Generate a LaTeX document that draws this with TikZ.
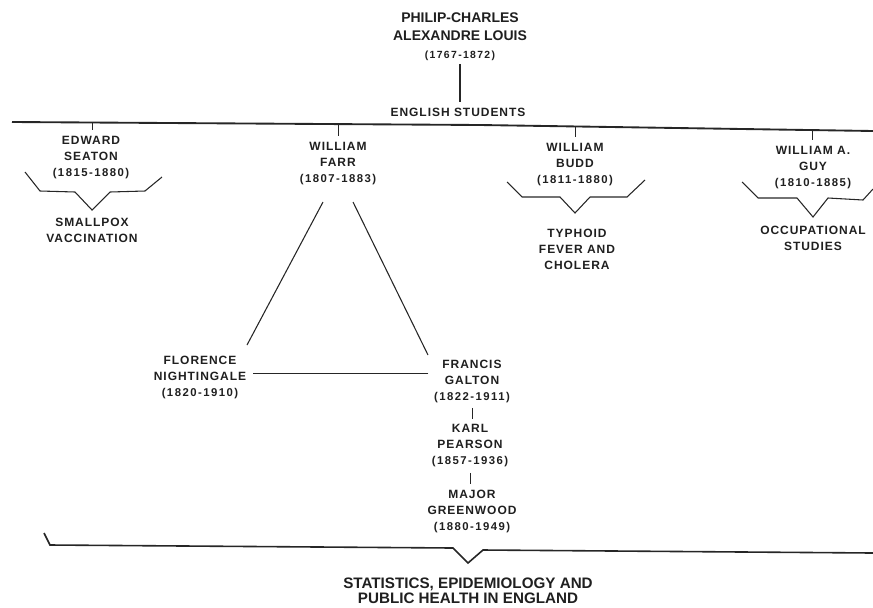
\documentclass[tikz,border=0pt]{standalone}
\usepackage{fontspec}
\setmainfont{Liberation Sans}
\newfontfamily\nmfam[LetterSpace=8]{Liberation Sans}
\newfontfamily\dtfam[LetterSpace=13]{Liberation Sans}
\newcommand\nmf{\fontsize{9}{12}\nmfam\bfseries}
\newcommand\dtf{\fontsize{8.5}{12}\dtfam\bfseries}
\begin{document}
\begin{tikzpicture}[x=0.75pt,y=-0.75pt,
  nm/.style={align=center, inner sep=0pt, font=\nmf, text=black!88},
  ln/.style={line width=0.8pt, draw=black!85},
  heavy/.style={line width=1.4pt, draw=black!85},
  tick/.style={line width=0.7pt, draw=black!85, shorten >=5pt}]
\useasboundingbox (0,0) rectangle (873,607);

% title
\node[nm, font=\fontsize{10.5}{13.5}\selectfont\bfseries] (louis) at (460,37)
  {PHILIP-CHARLES\\ALEXANDRE LOUIS\\\fontsize{7.8}{13.5}\dtfam\bfseries(1767-1872)};
\node[nm] (eng) at (458,112) {ENGLISH STUDENTS};
\draw[ln, shorten <=2pt, shorten >=4pt] (louis.south) -- (louis.south |- eng.north);

% main horizontal line
\draw[heavy] (12,122) -- (480,125) -- (873,131);
\coordinate (tS) at (92,122.5);
\coordinate (tF) at (338,124.1);
\coordinate (tB) at (575,126.5);
\coordinate (tG) at (812,130.1);

% students
\node[nm] (seaton) at (91,158) {EDWARD\\SEATON\\\dtf(1815-1880)};
\node[nm] (farr) at (338,164) {WILLIAM\\FARR\\\dtf(1807-1883)};
\node[nm] (budd) at (575,165) {WILLIAM\\BUDD\\\dtf(1811-1880)};
\node[nm] (guy) at (813,168) {WILLIAM A.\\GUY\\\dtf(1810-1885)};

\draw[tick] (tS) -- (tS |- seaton.north);
\draw[tick] (tF) -- (tF |- farr.north);
\draw[tick] (tB) -- (tB |- budd.north);
\draw[tick] (tG) -- (tG |- guy.north);

% braces
\draw[ln] (25,172) -- (40,191) -- (75,192) -- (92,210) coordinate (vS) -- (110,192) -- (145,191) -- (162,177);
\draw[ln] (507,182) -- (522,197) -- (560,197) -- (575,213) coordinate (vB) -- (590,197) -- (627,197) -- (645,180);
\draw[ln] (742,182) -- (758,198) -- (797,198) -- (813,217) coordinate (vG) -- (828,198) -- (863,200) -- (873,189);

\node[nm] (smallpox) at (92,230) {SMALLPOX\\VACCINATION};
\node[nm] (typhoid) at (577,249) {TYPHOID\\FEVER AND\\CHOLERA};
\node[nm] (occup) at (813,238.5) {OCCUPATIONAL\\STUDIES};

% Farr's circle
\node[nm] (night) at (200,377) {FLORENCE\\NIGHTINGALE\\\dtf(1820-1910)};
\node[nm] (galton) at (472,381) {FRANCIS\\GALTON\\\dtf(1822-1911)};
\node[nm] (pearson) at (470,446) {KARL\\PEARSON\\\dtf(1857-1936)};
\node[nm] (green) at (472,511) {MAJOR\\GREENWOOD\\\dtf(1880-1949)};

\coordinate (fL) at (323,202);
\coordinate (fR) at (353,202);
\coordinate (nE) at (247,345);
\coordinate (gW) at (428,355);
\draw[ln] (fL) -- (nE);
\draw[ln] (fR) -- (gW);
\coordinate (hl) at (0,373.5);
\draw[ln, shorten <=4pt, shorten >=5pt] (galton.west |- hl) -- (night.east |- hl);
\draw[ln, line width=0.7pt, shorten <=4pt, shorten >=4pt] (galton.south) -- (galton.south |- pearson.north);
\draw[ln, line width=0.7pt, shorten <=4pt, shorten >=4pt] (pearson.south) -- (pearson.south |- green.north);

% bottom brace
\draw[line width=1.2pt, draw=black!85] (44,533) -- (50,545) -- (453,548) -- (468,563) coordinate (vE) -- (483,550) -- (873,553);
\node[align=center, inner sep=0pt, text=black!88, font=\fontsize{11.4}{11.6}\selectfont\bfseries] (final) at (468,590.5)
  {STATISTICS, EPIDEMIOLOGY AND\\PUBLIC HEALTH IN ENGLAND};
\end{tikzpicture}
\end{document}
